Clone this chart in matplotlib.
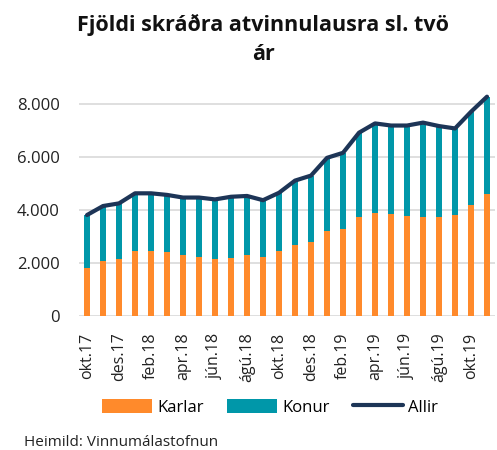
import matplotlib
matplotlib.use("Agg")
import matplotlib.pyplot as plt
import numpy as np
from matplotlib.ticker import FuncFormatter

plt.rcParams['font.family'] = ['Open Sans', 'DejaVu Sans']

months = ["okt.17", "nóv.17", "des.17", "jan.18", "feb.18", "mar.18", "apr.18",
          "maí.18", "jún.18", "júl.18", "ágú.18", "sep.18", "okt.18", "nóv.18",
          "des.18", "jan.19", "feb.19", "mar.19", "apr.19", "maí.19", "jún.19",
          "júl.19", "ágú.19", "sep.19", "okt.19", "nóv.19"]
karlar = [1820, 2060, 2150, 2440, 2440, 2420, 2300, 2240, 2160, 2190, 2290, 2240,
          2440, 2680, 2780, 3210, 3280, 3750, 3900, 3850, 3770, 3750, 3750, 3810,
          4200, 4620]
allir = [3810, 4150, 4250, 4630, 4630, 4570, 4470, 4470, 4400, 4500, 4530, 4370,
         4650, 5110, 5300, 5970, 6160, 6920, 7270, 7190, 7190, 7300, 7170, 7080,
         7710, 8280]
konur = [a - k for a, k in zip(allir, karlar)]

fig = plt.figure(figsize=(4.97, 4.5), dpi=100)
ax = fig.add_axes([0.159, 0.298, 0.837, 0.506])

x = np.arange(len(months))
b1 = ax.bar(x, karlar, width=0.42, color="#FF8A2B", label="Karlar", zorder=2)
b2 = ax.bar(x, konur, width=0.42, bottom=karlar, color="#0097A9", label="Konur", zorder=2)
ln, = ax.plot(x, allir, color="#1D3557", lw=3, label="Allir", zorder=3,
              solid_capstyle="round", solid_joinstyle="round")

ax.set_xlim(-0.5, len(months) - 0.5)
ax.set_ylim(0, 8600)
ax.set_yticks([0, 2000, 4000, 6000, 8000])
ax.yaxis.set_major_formatter(FuncFormatter(lambda v, p: f"{int(v):,}".replace(",", ".")))
ax.set_xticks(x[::2])
ax.set_xticklabels(months[::2], rotation=90, fontsize=11.5, color="#222222")
ax.tick_params(axis="y", labelsize=12, colors="#222222", length=0, pad=14)
ax.tick_params(axis="x", length=0, pad=12)
ax.grid(axis="y", color="#D9D9D9", lw=1.2, zorder=0)
for s in ax.spines.values():
    s.set_visible(False)

fig.text(0.53, 0.968, "Fjöldi skráðra atvinnulausra sl. tvö\nár", ha="center", va="top",
         fontsize=15.5, fontweight="bold", color="#111111", linespacing=1.45)

fig.legend([b1, b2, ln], ["Karlar", "Konur", "Allir"], loc="center",
           bbox_to_anchor=(0.543, 0.095), ncol=3, frameon=False,
           fontsize=12, handlelength=3.0, handleheight=0.9, columnspacing=1.4,
           handletextpad=0.3)
fig.text(0.048, 0.008, "Heimild: Vinnumálastofnun", fontsize=11, color="#222222")

fig.savefig("out.png", dpi=100)
